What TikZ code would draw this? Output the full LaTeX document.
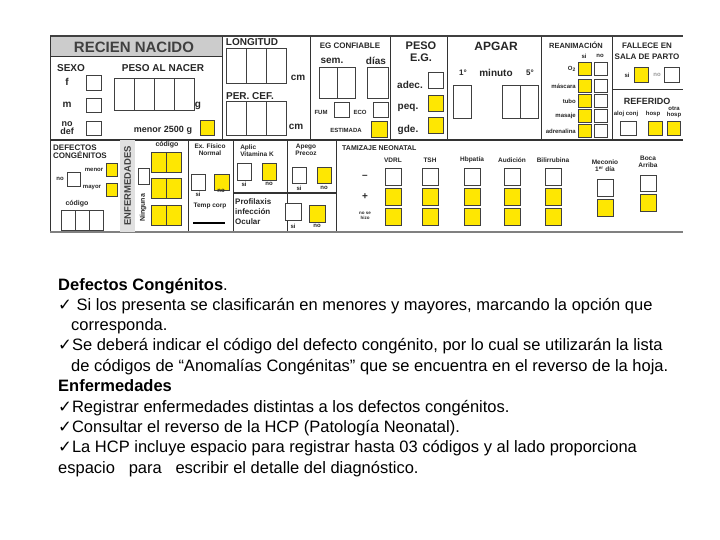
\documentclass[tikz,border=0pt]{standalone}
\usepackage{fontspec}
\setmainfont{Liberation Sans}
\newfontfamily\dejavu{DejaVu Sans}
\newcommand\ck{{\dejavu ✓}}
\newcommand\bx[6]{\node[#1,minimum width={((#4)-(#2))*1pt},minimum height={((#5)-(#3))*1pt}] (#6) at ({((#2)+(#4))/2},{((#3)+(#5))/2}) {};}
\begin{document}
\begin{tikzpicture}[x=1pt,y=-1pt,
  wb/.style={draw=black!75,fill=white,line width=0.8pt,inner sep=0pt,rectangle},
  yb/.style={draw=black!75,fill=yellow!90!orange,line width=0.8pt,inner sep=0pt,rectangle},
  lbl/.style={font=\bfseries\fontsize{8}{8}\selectfont,inner sep=0pt,align=center,text=black!85},
  big/.style={font=\bfseries\fontsize{10}{10}\selectfont,inner sep=0pt,align=center,text=black!85},
  tiny/.style={font=\bfseries\fontsize{6}{6}\selectfont,inner sep=0pt,align=center,text=black!85},
  rl/.style={line width=1pt,draw=black!80},
  txt/.style={font=\fontsize{16.5}{18}\selectfont,inner sep=0pt,anchor=base west}]
\useasboundingbox (0,0) rectangle (720,540);
% frame
\fill[black!20] (50,37) rectangle (222,57);
\node[font=\bfseries\fontsize{15}{15}\selectfont,text=black!75,inner sep=0pt] (title) at (134,47) {RECIEN NACIDO};
\draw[line width=2pt,black!75] (50,36) -- (683,36);
\draw[rl] (50,36) -- (50,232);
\draw[rl] (50,57) -- (222,57);
\foreach \x in {222,310,390,447,541,612} \draw[rl] (\x,37) -- (\x,140);
\draw[rl] (612,90) -- (683,90);
\draw[line width=1.5pt,black!80] (50,140) -- (683,140);
\foreach \x in {120,188,233,287,336} \draw[rl] (\x,140) -- (\x,232);
\draw[line width=1.5pt,black!80] (233,193) -- (336,193);
\draw[line width=1pt,black!50] (50,232) -- (683,232);
% SEXO
\node[big] (sexo) at (71,68) {SEXO};
\node[big] (f) at (67,82) {f};
\node[big] (m) at (67,105) {m};
\node[lbl,font=\bfseries\fontsize{9}{8}\selectfont] (nodef) at (67,128) {no\\def};
\bx{wb}{86}{75}{101}{90}{sf}
\bx{wb}{86}{98}{101}{112}{sm}
\bx{wb}{86}{121}{101}{135}{sn}
\node[big] (peso) at (163,68) {PESO AL NACER};
\foreach \i in {0,1,2,3} {\bx{wb}{114+20*\i}{78}{134+20*\i}{110}{pn\i}}
\node[big] (g) at (198,106) {g};
\node[lbl,font=\bfseries\fontsize{9}{9}\selectfont] (menor) at (163,130) {menor 2500 g};
\bx{yb}{200}{120}{214}{135}{pm}
% LONGITUD
\node[big] (long) at (252,42) {LONGITUD};
\node[big] (perc) at (250,96) {PER. CEF.};
\foreach \i in {0,1,2} {\bx{wb}{226+20*\i}{48}{246+20*\i}{83}{lg\i} \bx{wb}{226+20*\i}{101}{246+20*\i}{135}{pc\i}}
\node[big] (cm1) at (298,78) {cm};
\node[big] (cm2) at (296,127) {cm};
% EG
\node[lbl] (egc) at (350,46) {EG CONFIABLE};
\node[big] (sem) at (332,61) {sem.};
\node[big] (dias) at (376,61) {días};
\bx{wb}{319}{67}{337}{98}{eg1}
\bx{wb}{337}{67}{355}{98}{eg2}
\bx{wb}{367}{67}{388}{98}{eg3}
\node[tiny] (fum) at (321,112) {FUM};
\bx{wb}{334}{102}{349}{117}{bfum}
\node[tiny] (eco) at (360,112) {ECO};
\bx{wb}{373}{102}{388}{117}{beco}
\node[tiny] (est) at (346,130) {ESTIMADA};
\bx{yb}{371}{121}{387}{137}{best}
% PESO EG
\node[big,font=\bfseries\fontsize{11}{12}\selectfont] (peg) at (421,52) {PESO\\E.G.};
\node[big] (adec) at (410,85) {adec.};
\node[big] (peq) at (408,108) {peq.};
\node[big] (gde) at (408,130) {gde.};
\bx{wb}{428}{72}{443}{88}{badec}
\bx{yb}{428}{95}{443}{111}{bpeq}
\bx{yb}{428}{117}{443}{133}{bgde}
% APGAR
\node[big,font=\bfseries\fontsize{12}{12}\selectfont] (apgar) at (496,46) {APGAR};
\node[lbl] (p1) at (463,73) {1°};
\node[big] (min) at (496,73) {minuto};
\node[lbl] (p5) at (530,73) {5°};
\bx{wb}{453}{85}{471}{118}{ap1}
\bx{wb}{502}{85}{520}{118}{ap2}
\bx{wb}{520}{85}{538}{118}{ap3}
% REANIMACION
\node[lbl,font=\bfseries\fontsize{7.5}{8}\selectfont] (rean) at (576,45) {REANIMACIÓN};
\node[tiny] (rsi) at (584,56) {si};
\node[tiny] (rno) at (600,56) {no};
\foreach \t/\y [count=\k] in {O\textsubscript{2}/69,máscara/86,tubo/101,masaje/116,adrenalina/131} {
  \node[tiny,anchor=east] (rl\k) at (576,\y) {\t};
  \bx{yb}{578}{\y-6.5}{591}{\y+6.5}{ry\k}
  \bx{wb}{594}{\y-6.5}{607}{\y+6.5}{rw\k}}
% FALLECE
\node[lbl] (fall) at (647,51) {FALLECE EN\\[3pt]SALA DE PARTO};
\node[tiny] (fsi) at (627,75) {si};
\bx{yb}{634}{67}{648}{82}{bfsi}
\node[tiny,text=black!40] (fno) at (657,75) {no};
\bx{wb}{664}{67}{679}{82}{bfno}
\node[lbl,font=\bfseries\fontsize{9}{9}\selectfont] (ref) at (647,101) {REFERIDO};
\node[tiny] (aloj) at (626,114) {aloj conj};
\node[tiny] (hosp) at (653,114) {hosp};
\node[tiny] (otra) at (674,112) {otra\\hosp};
\bx{wb}{620}{121}{636}{135}{br1}
\bx{yb}{648}{121}{662}{135}{br2}
\bx{yb}{667}{121}{680}{135}{br3}
% DEFECTOS
\node[lbl,align=left] (defc) at (80,152) {DEFECTOS\\CONGÉNITOS};
\node[tiny] (dmen) at (94,170) {menor};
\node[tiny] (dno) at (60,179) {no};
\node[tiny] (dmay) at (92,188) {mayor};
\bx{yb}{106}{163}{117}{176}{bmen}
\bx{wb}{67}{172}{80}{186}{bdno}
\bx{yb}{106}{183}{117}{196}{bmay}
\node[tiny,font=\bfseries\fontsize{7}{7}\selectfont] (dcod) at (77,204) {código};
\foreach \i in {0,1,2} {\bx{wb}{61+14*\i}{210}{75+14*\i}{230}{dc\i}}
% ENFERMEDADES
\fill[black!12] (120,140) rectangle (135,232);
\node[rotate=90,font=\bfseries\fontsize{9.5}{9.5}\selectfont,text=black!75,inner sep=0pt] (enf) at (127.5,186) {ENFERMEDADES};
\node[rotate=90,tiny,font=\bfseries\fontsize{7}{7}\selectfont] (ning) at (143,208) {Ninguna};
\bx{wb}{138}{168}{149}{184}{bning}
\node[tiny,font=\bfseries\fontsize{7}{7}\selectfont] (ecod) at (167,145) {código};
\foreach \y [count=\k] in {152,178,205} {\bx{yb}{151}{\y}{166}{\y+20}{ea\k} \bx{yb}{166}{\y}{181}{\y+20}{eb\k}}
% Ex fisico
\node[tiny,font=\bfseries\fontsize{6.5}{7}\selectfont] (exf) at (210,150) {Ex. Físico\\Normal};
\bx{wb}{191}{174}{205}{190}{bexs}
\bx{yb}{214}{174}{229}{190}{bexn}
\node[tiny] (exsi) at (198,194) {si};
\node[tiny] (exno) at (221,191) {no};
\node[tiny,font=\bfseries\fontsize{6.5}{7}\selectfont] (tc) at (210,206) {Temp corp};
\draw[line width=1.2pt] (193,223) -- (225,223);
% Vit K
\node[tiny,font=\bfseries\fontsize{6.5}{7}\selectfont,align=left] (vk) at (257,151) {Aplic\\Vitamina K};
\bx{wb}{237}{163}{251}{180}{bvks}
\bx{yb}{262}{163}{276}{180}{bvkn}
\node[tiny] (vksi) at (244,184) {si};
\node[tiny] (vkno) at (269,184) {no};
\node[tiny,font=\bfseries\fontsize{6.5}{7}\selectfont] (ap) at (306,150) {Apego\\Precoz};
\bx{wb}{292}{167}{306}{183}{baps}
\bx{yb}{317}{167}{331}{183}{bapn}
\node[tiny] (apsi) at (299,188) {si};
\node[tiny] (apno) at (324,188) {no};
% Profilaxis
\node[lbl,align=left,font=\bfseries\fontsize{8}{10}\selectfont,anchor=west] (prof) at (235,212) {Profilaxis\\infección\\Ocular};
\bx{wb}{285}{203}{301}{220}{bprs}
\bx{yb}{309}{205}{325}{222}{bprn}
\node[tiny] (prsi) at (293,226) {si};
\node[tiny] (prno) at (317,226) {no};
% Tamizaje
\node[tiny,font=\bfseries\fontsize{7}{7}\selectfont,anchor=west] (tam) at (342,148) {TAMIZAJE NEONATAL};
\node[big] (tmin) at (365,177) {--};
\node[big] (tplus) at (365,197) {+};
\node[tiny,font=\bfseries\fontsize{4.5}{5}\selectfont] (tns) at (365,216) {no se\\hizo};
\foreach \x/\t [count=\k] in {393/VDRL/RPR,430/TSH,472/Hbpatía,512/Audición,553/Bilirrubina} {
  \node[tiny,font=\bfseries\fontsize{6.5}{7}\selectfont] (tl\k) at (\x,160) {\t};
  \bx{wb}{\x-8}{168}{\x+8}{185}{tw\k}
  \bx{yb}{\x-8}{188}{\x+8}{205}{ty\k}
  \bx{yb}{\x-8}{208}{\x+8}{225}{tz\k}}
\node[tiny,font=\bfseries\fontsize{6.5}{7}\selectfont] (mec) at (605,166) {Meconio\\1\textsuperscript{er} día};
\bx{wb}{597}{179}{613}{196}{bmw}
\bx{yb}{597}{199}{613}{216}{bmy}
\node[tiny,font=\bfseries\fontsize{6.5}{7}\selectfont] (boca) at (648,162) {Boca\\Arriba};
\bx{wb}{640}{175}{656}{191}{bbw}
\bx{yb}{640}{194}{656}{211}{bby}
% text
\node[txt] (t1) at (58,290) {\textbf{Defectos Congénitos}.};
\node[txt] (t2) at (58,310) {\ck\ Si los presenta se clasificarán en menores y mayores, marcando la opción que};
\node[txt] (t3) at (71,330) {corresponda.};
\node[txt] (t4) at (58,350) {\ck Se deberá indicar el código del defecto congénito, por lo cual se utilizarán la lista};
\node[txt] (t5) at (71,371) {de códigos de “Anomalías Congénitas” que se encuentra en el reverso de la hoja.};
\node[txt,font=\bfseries\fontsize{16.5}{18}\selectfont] (t6) at (58,391) {Enfermedades};
\node[txt] (t7) at (58,412) {\ck Registrar enfermedades distintas a los defectos congénitos.};
\node[txt] (t8) at (58,432) {\ck Consultar el reverso de la HCP (Patología Neonatal).};
\node[txt] (t9) at (58,452) {\ck La HCP incluye espacio para registrar hasta 03 códigos y al lado proporciona};
\node[txt] (t10) at (58,473) {espacio \ \ para \ \ escribir el detalle del diagnóstico.};
\end{tikzpicture}
\end{document}
